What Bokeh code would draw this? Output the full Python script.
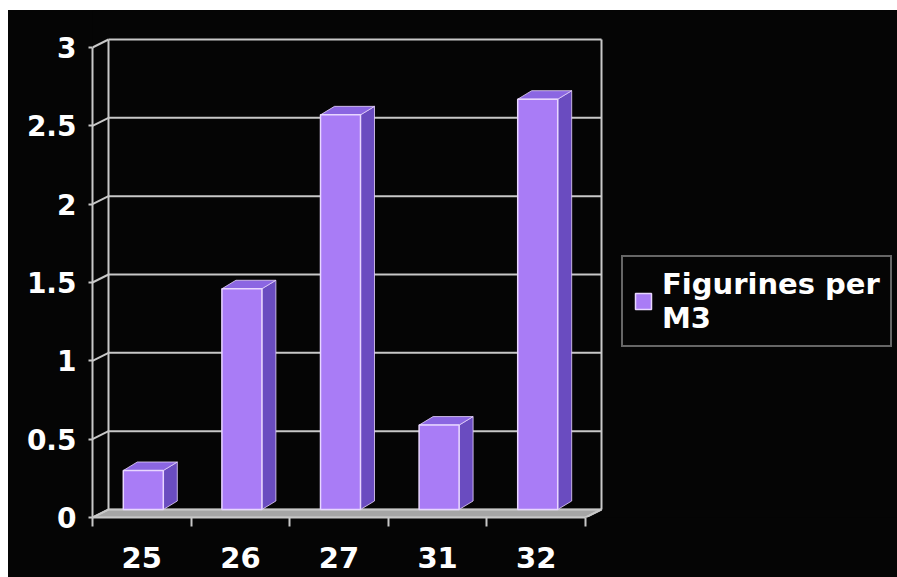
from bokeh.plotting import figure
from bokeh.models import Range1d, FixedTicker, LinearAxis, Legend, LegendItem
from bokeh.embed import file_html
from bokeh.resources import INLINE

# ---- data -------------------------------------------------------------
categories = ["25", "26", "27", "31", "32"]
values = [0.30, 1.46, 2.57, 0.59, 2.67]
y_ticks = [0, 0.5, 1, 1.5, 2, 2.5, 3]
series_name = "Figurines per\nM3"

# ---- geometry (pixel scales of the reference) -------------------------
PX_X = 98.6      # px per category
PX_Y = 156.67    # px per value unit
W, H = 889, 567
LEFT, BOTTOM = 84, 60
frame_w = W - LEFT
frame_h = H - BOTTOM
n = len(categories)
ymax = y_ticks[-1]

DX, DY = 16 / PX_X, 8 / PX_Y          # wall depth
BW = 40 / PX_X                         # bar front width
BDX, BDY = 14 / PX_X, 8.5 / PX_Y       # bar depth
BASE = 8 / PX_Y                        # bar base above front floor edge
SHIFT = 1.5 / PX_X

BG = "#050505"
GRID = "#c8c8c8"
FRONT = "#a97cf6"
SIDE = "#6a4cc0"
TOP = "#8b66e2"
EDGE = "#e8d6ff"
FONT = "DejaVu Sans"

p = figure(width=W, height=H,
           x_range=Range1d(0, frame_w / PX_X), y_range=Range1d(0, frame_h / PX_Y),
           output_backend="svg", toolbar_location=None,
           x_axis_location=None, y_axis_location=None,
           min_border=0, min_border_left=LEFT, min_border_bottom=BOTTOM)
p.background_fill_color = BG
p.border_fill_color = None
p.outline_line_color = None
p.xgrid.visible = False
p.ygrid.visible = False

# ---- axes ---------------------------------------------------------------
centers = [i + 0.5 for i in range(n)]
xaxis = LinearAxis(ticker=FixedTicker(ticks=centers, minor_ticks=list(range(n + 1))),
                   bounds=(0, n),
                   major_label_overrides={c: lab for c, lab in zip(centers, categories)})
xaxis.axis_line_color = GRID
xaxis.axis_line_width = 2
xaxis.major_tick_line_color = None
xaxis.major_tick_out = 0
xaxis.major_tick_in = 0
xaxis.minor_tick_line_color = GRID
xaxis.minor_tick_line_width = 2
xaxis.minor_tick_out = 9
xaxis.minor_tick_in = 0
xaxis.major_label_standoff = 20
xaxis.major_label_text_color = "white"
xaxis.major_label_text_font = FONT
xaxis.major_label_text_font_style = "bold"
xaxis.major_label_text_font_size = "29px"
p.add_layout(xaxis, "below")

yaxis = LinearAxis(ticker=FixedTicker(ticks=y_ticks, minor_ticks=[]), bounds=(0, ymax))
yaxis.axis_line_color = GRID
yaxis.axis_line_width = 2
yaxis.major_tick_line_color = GRID
yaxis.major_tick_line_width = 2
yaxis.major_tick_out = 4
yaxis.major_tick_in = 0
yaxis.minor_tick_line_color = None
yaxis.major_label_standoff = 12
yaxis.major_label_text_color = "white"
yaxis.major_label_text_font = FONT
yaxis.major_label_text_font_style = "bold"
yaxis.major_label_text_font_size = "28px"
p.add_layout(yaxis, "left")

# ---- walls & floor ------------------------------------------------------
p.patch([0, n, n + DX, DX], [0, 0, DY, DY], fill_color="#a6a6a6", line_color=GRID, line_width=1.5)
p.segment(x0=[DX] * len(y_ticks), y0=[t + DY for t in y_ticks],
          x1=[n + DX] * len(y_ticks), y1=[t + DY for t in y_ticks],
          line_color=GRID, line_width=2)
p.segment(x0=[0] * len(y_ticks), y0=y_ticks,
          x1=[DX] * len(y_ticks), y1=[t + DY for t in y_ticks],
          line_color=GRID, line_width=2)
p.segment(x0=[DX, n + DX], y0=[DY, DY], x1=[DX, n + DX], y1=[ymax + DY, ymax + DY],
          line_color=GRID, line_width=2)
p.segment(x0=[n], y0=[0], x1=[n + DX], y1=[DY], line_color=GRID, line_width=2)

# ---- 3D bars ------------------------------------------------------------
lefts = [c - BW / 2 + SHIFT for c in centers]
rights = [c + BW / 2 + SHIFT for c in centers]
p.patches(xs=[[r, r + BDX, r + BDX, r] for r in rights],
          ys=[[BASE, BASE + BDY, v + BDY, v] for v in values],
          fill_color=SIDE, line_color=EDGE, line_width=1, line_alpha=0.8)
p.patches(xs=[[l, r, r + BDX, l + BDX] for l, r in zip(lefts, rights)],
          ys=[[v, v, v + BDY, v + BDY] for v in values],
          fill_color=TOP, line_color=EDGE, line_width=1, line_alpha=0.8)
front = p.quad(left=lefts, right=rights, bottom=[BASE] * n, top=values,
               fill_color=FRONT, line_color=EDGE, line_width=1.5)

# ---- legend -------------------------------------------------------------
legend = Legend(items=[LegendItem(label=series_name, renderers=[front])],
                location=(621 - 92, 517 - 347), margin=0, padding=10,
                glyph_width=20, glyph_height=20, label_standoff=9,
                background_fill_color=BG, background_fill_alpha=1,
                border_line_color=GRID, border_line_width=2,
                label_text_color="white", label_text_font=FONT,
                label_text_font_style="bold", label_text_font_size="29px",
                label_text_line_height=1.45)
p.add_layout(legend)

html = file_html(p, INLINE, title="Figurines per M3")
html = html.replace("</head>",
                    "<style>html{background:#ffffff;overflow:hidden}"
                    "body{margin:10px 0 0 8px;padding:0;background:" + BG + ";"
                    "overflow:hidden}</style></head>", 1)
open("out.html", "w").write(html)
